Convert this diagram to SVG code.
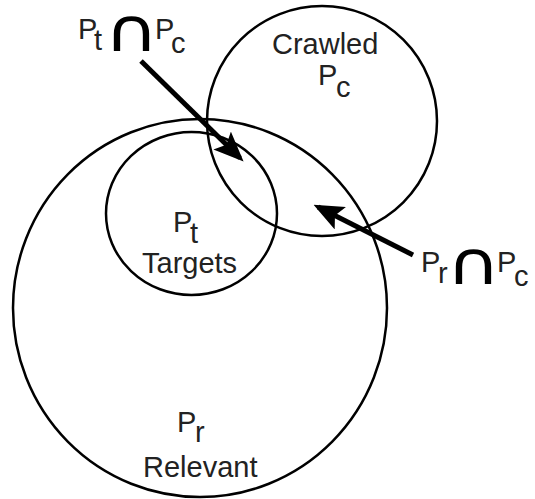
<svg xmlns="http://www.w3.org/2000/svg" width="535" height="499" viewBox="0 0 535 499">
<style>
.set{fill:none;stroke:#000;stroke-width:2.5}
.lbl{font-family:"Liberation Sans",Arial,sans-serif;font-size:29px;fill:#222}
.cap{font-family:"DejaVu Sans",sans-serif;font-size:60px;fill:#000}
.arr{stroke:#000;stroke-width:5;fill:none;marker-end:url(#ah)}
</style>
<defs>
<marker id="ah" markerWidth="6" markerHeight="5" refX="5" refY="2.5" orient="auto" markerUnits="strokeWidth">
<path d="M0,0 L6,2.5 L0,5 L1.2,2.5 Z" fill="#000"/>
</marker>
</defs>
<rect width="535" height="499" fill="#fff"/>
<g id="relevant">
<ellipse class="set" cx="200" cy="308" rx="187" ry="189"/>
<text class="lbl" x="177" y="432">P</text><text class="lbl" x="195" y="442">r</text>
<text class="lbl" x="143" y="477">Relevant</text>
</g>
<g id="targets">
<ellipse class="set" cx="191.5" cy="213.5" rx="85.5" ry="81.5"/>
<text class="lbl" x="173" y="232">P</text><text class="lbl" x="190" y="243">t</text>
<text class="lbl" x="142" y="273">Targets</text>
</g>
<g id="crawled">
<circle class="set" cx="322" cy="121" r="115"/>
<text class="lbl" x="272" y="54">Crawled</text>
<text class="lbl" x="318" y="85">P</text><text class="lbl" x="336" y="97">c</text>
</g>
<g id="pt-pc">
<text class="lbl" x="78" y="39">P</text><text class="lbl" x="94" y="50">t</text>
<text class="cap" transform="translate(104,51) scale(1.25,1)" x="0" y="0">∩</text>
<text class="lbl" x="155" y="39">P</text><text class="lbl" x="171" y="53">c</text>
</g>
<g id="pr-pc">
<text class="lbl" x="421" y="272">P</text><text class="lbl" x="438" y="283">r</text>
<text class="cap" transform="translate(446,284) scale(1.25,1)" x="0" y="0">∩</text>
<text class="lbl" x="497" y="272">P</text><text class="lbl" x="514" y="286">c</text>
</g>
<g id="connectors">
<line class="arr" x1="141" y1="61" x2="240" y2="158"/>
<line class="arr" x1="413" y1="255" x2="318" y2="207"/>
</g>
</svg>
